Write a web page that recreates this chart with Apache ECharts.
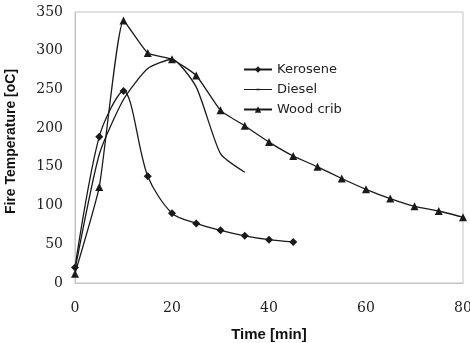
<!DOCTYPE html>
<html><head><meta charset="utf-8">
<script src="https://cdn.jsdelivr.net/npm/echarts@6/dist/echarts.min.js"></script>
<style>html,body{margin:0;padding:0;background:#fff}#c{width:470px;height:343px}</style>
</head><body><div id="c"></div>
<script>
const keroseneTime = [0, 5, 10, 15, 20, 25, 30, 35, 40, 45];
const keroseneTemp = [20, 189, 248, 138, 90, 77, 68, 61, 56, 53];
const dieselTime = [0, 5, 10, 15, 20, 25, 30, 35];
const dieselTemp = [17, 166, 237, 277, 289, 253, 167, 143];
const woodTime = [0, 5, 10, 15, 20, 25, 30, 35, 40, 45, 50, 55, 60, 65, 70, 75, 80];
const woodTemp = [12, 124, 339, 297, 289, 268, 223, 203, 182, 164, 150, 135, 121, 109, 99, 93, 85];
const xTicks = [0, 20, 40, 60, 80];
const yTicks = [0, 50, 100, 150, 200, 250, 300, 350];

const pair = (t, v) => t.map((x, i) => [x, v[i]]);
const ink = '#1a1a1a';
const sans = 'DejaVu Sans, Liberation Sans, Arial, sans-serif';
const arial = 'Liberation Sans, Arial, sans-serif';
const serif = 'DejaVu Serif, Liberation Serif, serif';
const dieselIcon = 'path://M0,0L0.01,0L0.01,0.01Z M0,8L0.01,8L0.01,8.01Z M0,3.4L28,3.4L28,4.6L0,4.6Z M12.5,3.2L15.5,3.2L15.5,4.8L12.5,4.8Z';
const chart = echarts.init(document.getElementById('c'));
chart.setOption({
  animation: false,
  backgroundColor: '#fff',
  grid: {left: 75, right: 7, top: 12, bottom: 60, outerBoundsMode: 'none', containLabel: false,
         show: true, borderColor: '#c4c4c4', borderWidth: 1},
  legend: {
    orient: 'vertical', left: 238, top: 58, itemGap: 7, itemWidth: 28, itemHeight: 8,
    textStyle: {fontFamily: sans, fontSize: 13, color: '#222'},
    data: ['Kerosene', {name: 'Diesel', icon: dieselIcon}, 'Wood crib']
  },
  xAxis: {
    type: 'value', min: xTicks[0], max: xTicks[xTicks.length - 1], interval: 20,
    name: 'Time [min]', nameLocation: 'middle', nameGap: 44,
    nameTextStyle: {fontFamily: arial, fontWeight: 'bold', fontSize: 15, color: '#111'},
    axisLine: {lineStyle: {color: '#c4c4c4'}}, axisTick: {show: false}, splitLine: {show: false},
    axisLabel: {margin: 18, fontFamily: serif, fontSize: 14, color: '#222'}
  },
  yAxis: {
    type: 'value', min: yTicks[0], max: yTicks[yTicks.length - 1], interval: 50,
    name: 'Fire Temperature [oC]', nameLocation: 'middle', nameGap: 57,
    nameTextStyle: {fontFamily: arial, fontWeight: 'bold', fontSize: 14, color: '#111', padding: [0, 0, 0, 12]},
    axisLine: {show: true, lineStyle: {color: '#c4c4c4'}}, axisTick: {show: false}, splitLine: {show: false},
    axisLabel: {margin: 12, fontFamily: serif, fontSize: 14, color: '#222'}
  },
  series: [
    {name: 'Kerosene', type: 'line', smooth: 0.3, data: pair(keroseneTime, keroseneTemp),
     symbol: 'diamond', symbolSize: 8, itemStyle: {color: ink}, lineStyle: {color: ink, width: 1.3}},
    {name: 'Diesel', type: 'line', smooth: 0.2, data: pair(dieselTime, dieselTemp),
     symbol: 'none', itemStyle: {color: ink}, lineStyle: {color: ink, width: 1.3}},
    {name: 'Wood crib', type: 'line', smooth: 0.15, data: pair(woodTime, woodTemp),
     symbol: 'triangle', symbolSize: 8, itemStyle: {color: ink}, lineStyle: {color: ink, width: 1.3}}
  ]
});
</script></body></html>
